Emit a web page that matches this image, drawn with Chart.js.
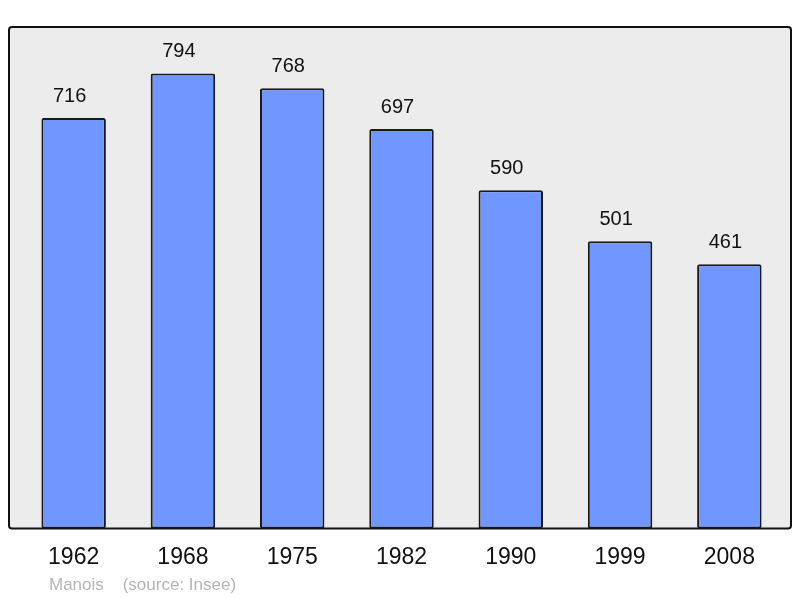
<!DOCTYPE html>
<html>
<head>
<meta charset="utf-8">
<script src="https://cdn.jsdelivr.net/npm/chart.js@4.4.0/dist/chart.umd.min.js"></script>
<style>
  html, body { margin: 0; padding: 0; background: #ffffff; }
  #wrap { width: 800px; height: 598px; position: relative; }
</style>
</head>
<body>
<div id="wrap"><canvas id="pop-chart"></canvas></div>
<script>
// Population data (Insee)
const years = ['1962', '1968', '1975', '1982', '1990', '1999', '2008'];
const population = [716, 794, 768, 697, 590, 501, 461];
const footerText = 'Manois    (source: Insee)';

const FONT = '"Liberation Sans", Arial, sans-serif';

/**
 * Grey framed panel behind the bars
 */
const panelPlugin = {
    id: 'panel',
    beforeDraw: function(chart) {
        const ctx = chart.ctx;
        const area = chart.chartArea;
        const x0 = 9, x1 = chart.width - 9;
        ctx.save();
        ctx.beginPath();
        ctx.roundRect(x0, area.top, x1 - x0, area.bottom - area.top, 3);
        ctx.fillStyle = '#ececec';
        ctx.fill();
        ctx.restore();
    },
    afterDatasetsDraw: function(chart) {
        const ctx = chart.ctx;
        const area = chart.chartArea;
        const x0 = 9, x1 = chart.width - 9;
        ctx.save();
        ctx.beginPath();
        ctx.roundRect(x0, area.top, x1 - x0, area.bottom - area.top, 3);
        ctx.strokeStyle = '#111';
        ctx.lineWidth = 2;
        ctx.stroke();

        // value labels above bars
        const meta = chart.getDatasetMeta(0);
        ctx.fillStyle = '#111';
        ctx.font = '20px ' + FONT;
        ctx.textAlign = 'center';
        ctx.textBaseline = 'middle';
        meta.data.forEach(function(bar, i) {
            ctx.fillText(String(population[i]), bar.x - 4, bar.y - 22);
        });

        // footer
        ctx.fillStyle = '#b5b5b5';
        ctx.font = '17px ' + FONT;
        ctx.textAlign = 'left';
        ctx.fillText(footerText, 49, 585);
        ctx.restore();
    }
};

new Chart(document.getElementById('pop-chart').getContext('2d'), {
    type: 'bar',
    data: {
        labels: years,
        datasets: [{
            data: population,
            backgroundColor: '#7097ff',
            borderColor: '#1a1a1a',
            borderWidth: 2,
            borderRadius: 2,
            borderSkipped: false,
            barPercentage: 0.59,
            categoryPercentage: 1
        }]
    },
    options: {
        responsive: true,
        maintainAspectRatio: false,
        animation: false,
        layout: {
            padding: { left: 19, right: 16, top: 27, bottom: 12 }
        },
        plugins: {
            legend: { display: false },
            tooltip: { enabled: false }
        },
        scales: {
            x: {
                display: true,
                grid: { display: false, drawTicks: false },
                border: { display: false },
                ticks: {
                    color: '#111',
                    padding: 15,
                    font: { family: FONT, size: 23 }
                }
            },
            y: {
                display: false,
                min: 0,
                max: 875
            }
        }
    },
    plugins: [panelPlugin]
});
</script>
</body>
</html>
